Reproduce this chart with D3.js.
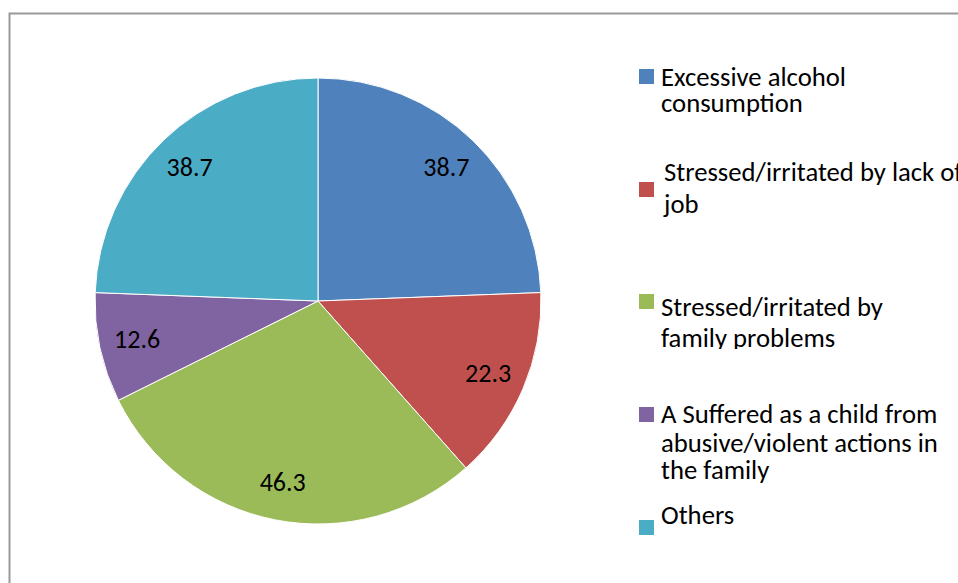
<!DOCTYPE html>
<html>
<head>
<meta charset="utf-8">
<script src="https://cdn.jsdelivr.net/npm/d3@7"></script>
<style>
  body { margin: 0; background: #fff; }
  svg { display: block; }
</style>
</head>
<body>
<svg id="chart"></svg>
<script>
const CONF = {
    width: 958,
    height: 583,
    cx: 318,
    cy: 301,
    radius: 223,
    labelRadius: 185,
    fontSize: 26,
    legendFontSize: 26.7,
}

const categories = [
    ["Excessive alcohol", "consumption"],
    ["Stressed/irritated by lack of", "job"],
    ["Stressed/irritated by", "family problems"],
    ["A Suffered as a child from", "abusive/violent actions in", "the family"],
    ["Others"],
]
const values = [38.7, 22.3, 46.3, 12.6, 38.7]
const colors = ["#4F81BD", "#C0504D", "#9BBB59", "#8064A2", "#4BACC6"]

// legend layout, roughly as Excel placed it
const legendSquareY = [69, 182, 294, 407, 520]
const legendTextY = [[86, 112], [181, 213], [316, 347], [423, 452, 479], [524]]
const legendTextX = [661, 664, 661, 661, 661]
const legendClipBottom = [null, null, 349, null, null]

const font = "Carlito, Calibri, 'Open Sans', sans-serif"

let svg = d3.select("svg#chart").attr("width", CONF.width).attr("height", CONF.height)

// outer frame (goes off the right and bottom edges)
svg.append("rect")
    .attr("x", 9.5).attr("y", 13.5)
    .attr("width", 1000).attr("height", 1000)
    .attr("fill", "none")
    .attr("stroke", "#999")
    .attr("stroke-width", 2)

let pie = d3.pie().sort(null).value(d => d)
let arcs = pie(values)

let arc = d3.arc().innerRadius(0).outerRadius(CONF.radius)
let labelArc = d3.arc().innerRadius(CONF.labelRadius).outerRadius(CONF.labelRadius)

let g = svg.append("g").attr("transform", `translate(${CONF.cx},${CONF.cy})`)

g.selectAll("path.slice")
    .data(arcs)
    .enter()
    .append("path")
    .classed("slice", true)
    .attr("d", arc)
    .attr("fill", (d, i) => colors[i])
    .attr("stroke", "#fff")
    .attr("stroke-width", 1)

g.selectAll("text.val")
    .data(arcs)
    .enter()
    .append("text")
    .classed("val", true)
    .attr("transform", d => `translate(${labelArc.centroid(d)})`)
    .attr("text-anchor", "middle")
    .attr("dy", "0.32em")
    .style("font-family", font)
    .style("font-size", CONF.fontSize + "px")
    .attr("fill", "#000")
    .text(d => d.value)

// legend
let legend = svg.append("g")

legend.selectAll("rect")
    .data(categories)
    .enter()
    .append("rect")
    .attr("x", 639)
    .attr("y", (d, i) => legendSquareY[i])
    .attr("width", 15)
    .attr("height", 15)
    .attr("fill", (d, i) => colors[i])

let defs = svg.append("defs")

categories.forEach((lines, i) => {
    let item = legend.append("g")
    if (legendClipBottom[i] != null) {
        // Excel cut the bottom of this entry off
        defs.append("clipPath").attr("id", "clip-" + i)
            .append("rect")
            .attr("x", 0).attr("y", 0)
            .attr("width", CONF.width).attr("height", legendClipBottom[i])
        item.attr("clip-path", `url(#clip-${i})`)
    }
    lines.forEach((line, j) => {
        item.append("text")
            .attr("x", legendTextX[i])
            .attr("y", legendTextY[i][j])
            .style("font-family", font)
            .style("font-size", CONF.legendFontSize + "px")
            .attr("fill", "#000")
            .text(line)
    })
})
</script>
</body>
</html>
